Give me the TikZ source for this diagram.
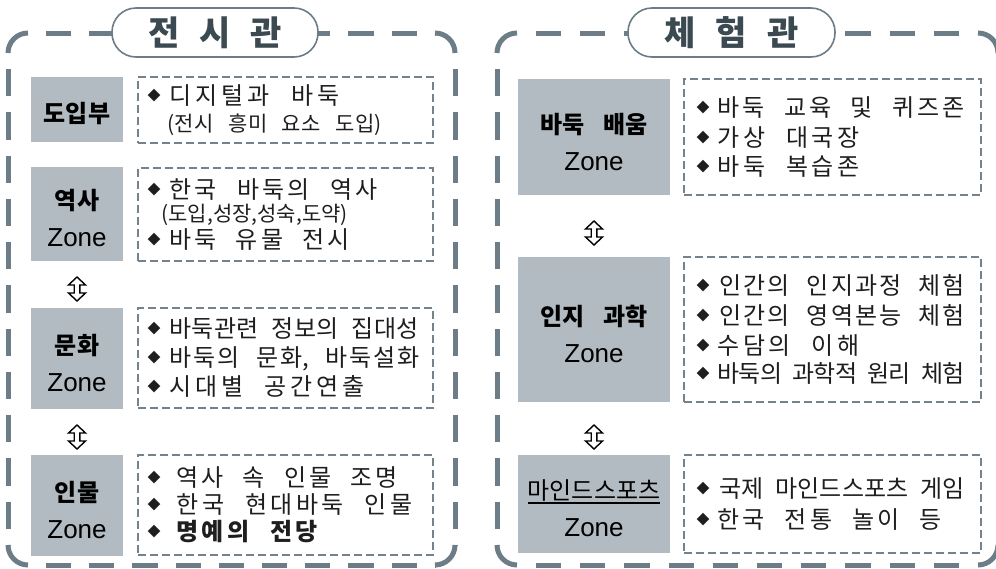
\documentclass[tikz,border=0pt]{standalone}
\usepackage{fontspec}
\setmainfont{Noto Sans CJK KR}
\newfontfamily\zonefont{Liberation Sans}
\frenchspacing
% stretchable gaps between Hangul syllables (used only in fixed-width lines)
\XeTeXinterchartokenstate=1
\newcount\hgc
\hgc="AC00
\loop\XeTeXcharclass\hgc=7 \advance\hgc by 1 \ifnum\hgc<"D7A4 \repeat
\XeTeXinterchartoks 7 7 = {\hskip 0pt plus 0.4fil minus 0.12em\relax}

\definecolor{framecol}{HTML}{6C7D87}
\definecolor{boxcol}{HTML}{74838B}
\definecolor{zonegray}{HTML}{B2BBC1}
\definecolor{titlecol}{HTML}{3B4950}
\definecolor{textcol}{HTML}{1E1E1E}

\newcommand\bodyfont{\fontsize{24pt}{29pt}\selectfont\spaceskip=0.5em plus 1fil minus 0.25em\relax}
\newcommand\subfont{\fontsize{21pt}{24pt}\selectfont}
\newcommand\labelfont{\fontsize{24pt}{37pt}\selectfont\bfseries\spaceskip=0.75em\relax}
\newcommand\titlefont{\fontsize{34pt}{34pt}\selectfont\bfseries\spaceskip=20pt\relax}
\newcommand\fitline[2]{\hbox to #1pt{#2}}
\newcommand\bul{\raisebox{4pt}{\fontsize{13pt}{13pt}\selectfont ◆}}
\newcommand\zn{{\zonefont\mdseries\fontsize{26pt}{37pt}\selectfont Zone}}
\newcommand\zul[1]{\setbox0=\hbox{#1}\rlap{\vrule height -2.5pt depth 4.2pt width \wd0}\box0}

\begin{document}
\begin{tikzpicture}[x=1pt,y=-1pt,
  frameline/.style={draw=framecol,line width=5pt},
  framecorner/.style={frameline,rounded corners=20pt},
  framev/.style={frameline,dash pattern=on 27.27pt off 16pt,dash phase=27.27pt},
  frameha/.style={frameline,dash pattern=on 25.2pt off 18pt,dash phase=25.2pt},
  framehb/.style={frameline,dash pattern=on 25.2pt off 19pt,dash phase=25.2pt},
  pill/.style={draw=framecol,line width=1.6pt,fill=white,rounded corners=24pt,
    minimum height=49pt,inner sep=0pt,font=\titlefont,text=titlecol},
  zonebox/.style={fill=zonegray,draw=none,inner sep=0pt},
  zonelabel/.style={inner sep=0pt,align=center,text=black,font=\labelfont,yshift=-4.5pt},
  infobox/.style={draw=boxcol,line width=1.3pt,dash pattern=on 8pt off 4pt,inner sep=0pt},
  infotext/.style={anchor=west,align=left,inner sep=0pt,font=\bodyfont,text=textcol},
  updown/.pic={\draw[line width=1.4pt,fill=white,line join=miter]
    (0,-12) -- (8.5,-4) -- (2.8,-4) -- (2.8,4) -- (8.5,4) -- (0,12)
    -- (-8.5,4) -- (-2.8,4) -- (-2.8,-4) -- (-8.5,-4) -- cycle;}
]
\useasboundingbox (0,0) rectangle (996,568);
\clip (0,0) rectangle (996,568);

% ---------- left panel frame ----------
\draw[framecorner] (8,53) -- (8,33) -- (28,33);
\draw[framecorner] (435,33) -- (455,33) -- (455,53);
\draw[framecorner] (455,545) -- (455,565) -- (435,565);
\draw[framecorner] (28,565) -- (8,565) -- (8,545);
\draw[framev] (8,53) -- (8,545);
\draw[framev] (455,53) -- (455,545);
\draw[frameha] (28,33) -- (435,33);
\draw[frameha] (28,565) -- (435,565);

% ---------- right panel frame ----------
\draw[framecorner] (497,53) -- (497,33) -- (517,33);
\draw[framecorner] (978,33) -- (998,33) -- (998,53);
\draw[framecorner] (998,545) -- (998,565) -- (978,565);
\draw[framecorner] (517,565) -- (497,565) -- (497,545);
\draw[framev] (497,53) -- (497,545);
\draw[framev] (998,53) -- (998,545);
\draw[framehb] (517,33) -- (978,33);
\draw[framehb] (517,565) -- (978,565);

% ---------- titles ----------
\node[pill,minimum width=206pt] (tl) at (215,32.5) {전 시 관};
\node[pill,minimum width=207pt] (tr) at (731.5,32.5) {체 험 관};

% ---------- left column ----------
\node[zonebox,minimum width=92pt,minimum height=65pt] (g1) at (77,109.5) {};
\node[zonelabel] (l1) at (g1.center) {도입부};
\node[infobox,minimum width=295pt,minimum height=66pt] (d1) at (285.5,110) {};
\node[infotext] (t1) at ([xshift=10pt]d1.west)
  {\bul\hspace{9pt}\fitline{170}{디지털과 바둑}\\[-2pt]
   \hspace{20pt}{\subfont\fitline{214}{(전시 흥미 요소 도입)}}};

\node[zonebox,minimum width=92pt,minimum height=94pt] (g2) at (77,214) {};
\node[zonelabel] (l2) at (g2.center) {역사\\\zn};
\node[infobox,minimum width=295pt,minimum height=93pt] (d2) at (285.5,214.5) {};
\node[infotext] (t2) at ([xshift=10pt]d2.west)
  {\bul\hspace{9pt}\fitline{208}{한국 바둑의 역사}\\[-6pt]
   \hspace{14pt}\hbox{\subfont (도입,성장,성숙,도약)}\\[-2pt]
   \bul\hspace{9pt}\fitline{180}{바둑 유물 전시}};

\node[zonebox,minimum width=92pt,minimum height=101pt] (g3) at (77,358.5) {};
\node[zonelabel] (l3) at (g3.center) {문화\\\zn};
\node[infobox,minimum width=295pt,minimum height=100pt] (d3) at (285.5,358) {};
\node[infotext] (t3) at ([xshift=10pt]d3.west)
  {\bul\hspace{9pt}\fitline{249}{바둑관련 정보의 집대성}\\
   \bul\hspace{9pt}\fitline{250}{바둑의 문화, 바둑설화}\\
   \bul\hspace{9pt}\fitline{195}{시대별 공간연출}};

\node[zonebox,minimum width=92pt,minimum height=101pt] (g4) at (77,505.5) {};
\node[zonelabel] (l4) at (g4.center) {인물\\\zn};
\node[infobox,minimum width=295pt,minimum height=100pt] (d4) at (285.5,505) {};
\node[infotext] (t4) at ([xshift=10pt]d4.west)
  {\bul\hspace{16pt}\fitline{221}{역사 속 인물 조명}\\[-2pt]
   \bul\hspace{16pt}\fitline{236}{한국 현대바둑 인물}\\[-2pt]
   \bul\hspace{16pt}{\bfseries\fitline{141}{명예의 전당}}};

\coordinate (a1) at (77,289);
\coordinate (a2) at (77,437);
\pic at (a1) {updown};
\pic at (a2) {updown};

% ---------- right column ----------
\node[zonebox,minimum width=152pt,minimum height=116pt] (r1) at (594,137) {};
\node[zonelabel] (m1) at (r1.center) {바둑 배움\\\zn};
\node[infobox,minimum width=297pt,minimum height=116pt] (e1) at (832.5,137) {};
\node[infotext] (u1) at ([xshift=13pt]e1.west)
  {\bul\hspace{8pt}\fitline{247}{바둑 교육 및 퀴즈존}\\[1pt]
   \bul\hspace{8pt}\fitline{142}{가상 대국장}\\[0pt]
   \bul\hspace{8pt}\fitline{142}{바둑 복습존}};

\node[zonebox,minimum width=152pt,minimum height=145pt] (r2) at (594,329.5) {};
\node[zonelabel] (m2) at (r2.center) {인지 과학\\\zn};
\node[infobox,minimum width=297pt,minimum height=145pt] (e2) at (832.5,329.5) {};
\node[infotext] (u2) at ([xshift=13pt]e2.west)
  {\bul\hspace{10pt}\fitline{245}{인간의 인지과정 체험}\\[1pt]
   \bul\hspace{10pt}\fitline{245}{인간의 영역본능 체험}\\[1pt]
   \bul\hspace{8pt}\fitline{142}{수담의 이해}\\[-1pt]
   \bul\hspace{8pt}\fitline{247}{바둑의 과학적 원리 체험}};

\node[zonebox,minimum width=152pt,minimum height=98pt] (r3) at (594,504) {};
\node[zonelabel] (m3) at (r3.center) {{\mdseries\zul{마인드스포츠}}\\\zn};
\node[infobox,minimum width=297pt,minimum height=98pt] (e3) at (832.5,504) {};
\node[infotext] (u3) at ([xshift=13pt]e3.west)
  {\bul\hspace{10pt}\fitline{245}{국제 마인드스포츠 게임}\\[2pt]
   \bul\hspace{8pt}\fitline{224}{한국 전통 놀이 등}};

\coordinate (a3) at (594,233);
\coordinate (a4) at (594,437);
\pic at (a3) {updown};
\pic at (a4) {updown};
\end{tikzpicture}
\end{document}
